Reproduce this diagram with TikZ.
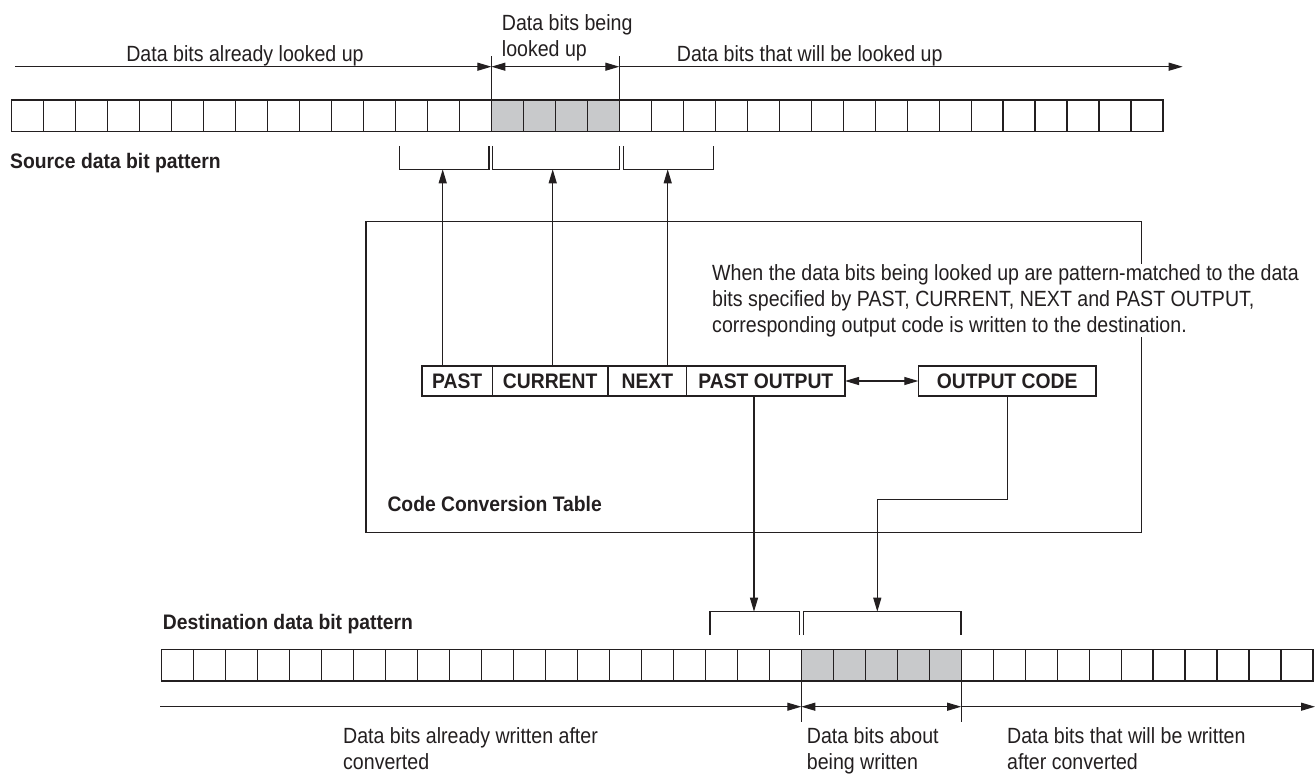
\documentclass[tikz,border=0pt]{standalone}
\usepackage{fontspec}
\setmainfont{Liberation Sans}[FakeStretch=0.89]
\newfontfamily\bfont{Liberation Sans Bold}[FakeStretch=0.92]
\usetikzlibrary{arrows.meta}
\definecolor{ink}{RGB}{35,31,32}
\definecolor{shade}{RGB}{200,201,203}
\begin{document}
\begin{tikzpicture}[x=1pt,y=-1pt,
  cell/.style={draw=ink, line width=1.2pt, minimum width=31.98pt, minimum height=31.7pt, inner sep=0pt, outer sep=0pt},
  lbl/.style={font=\fontsize{22}{26}\selectfont, inner sep=0pt, text=ink},
  blbl/.style={font={\bfont\fontsize{21}{25}\selectfont}, inner sep=0pt, text=ink},
  tcell/.style={draw=ink, line width=1.1pt, minimum height=30pt, inner sep=0pt, outer sep=0pt, text=ink, font={\bfont\fontsize{21}{25}\selectfont}},
  ln/.style={draw=ink, line width=1.1pt},
  arr/.style={ln, -{Triangle[length=14pt,width=8pt]}},
  darr/.style={ln, {Triangle[length=14pt,width=8pt]}-{Triangle[length=14pt,width=8pt]}}]
\useasboundingbox (0,0) rectangle (1316,778);
\fill[white] (0,0) rectangle (1316,778);

% source cells
\foreach \i in {0,...,35}{
  \ifnum\i<15 \def\f{white}\else\ifnum\i<19 \def\f{shade}\else\def\f{white}\fi\fi
  \node[cell, fill=\f] (s\i) at ({27.69+31.98*\i},115.85) {};
}
% destination cells
\foreach \i in {0,...,35}{
  \ifnum\i<20 \def\f{white}\else\ifnum\i<25 \def\f{shade}\else\def\f{white}\fi\fi
  \node[cell, fill=\f] (d\i) at ({177.69+31.98*\i},665.15) {};
}

% top dimension line
\coordinate (tl) at (15,66.7);
\coordinate (t1) at (s15.north west |- tl);
\coordinate (t2) at (s18.north east |- tl);
\coordinate (tr) at (1182.7,66.7);
\draw[ln] (s15.north west) -- ++(0,-44);
\draw[ln] (s18.north east) -- ++(0,-44);
\draw[arr] (tl) -- (t1);
\draw[darr] (t1) -- (t2);
\draw[arr] (t2) -- (tr);

\node[lbl, anchor=base] (l1) at (245,62) {Data bits already looked up};
\node[lbl, anchor=north west, align=left] (l2) at (501.7,14.2) {Data bits being\\looked up};
\node[lbl, anchor=base west] (l3) at (676.7,61.7) {Data bits that will be looked up};
\node[blbl, anchor=base west] (src) at (10,168) {Source data bit pattern};

% source brackets
\draw[ln] (399.3,146) -- (399.3,169.3) -- (489,169.3) -- (489,146);
\draw[ln] (492.3,146) -- (492.3,169.3) -- (619.3,169.3) -- (619.3,146);
\draw[ln] (623.3,146) -- (623.3,169.3) -- (713.3,169.3) -- (713.3,146);
\coordinate (b1) at (442.7,169.3);
\coordinate (b2) at (552.7,169.3);
\coordinate (b3) at (667.7,169.3);

% code conversion table box
\draw[ln] (366,221.7) rectangle (1141.7,532.7);
\node[lbl, anchor=north west, align=left, fill=white] (note) at (712,264.2)
  {When the data bits being looked up are pattern-matched to the data\\bits specified by PAST, CURRENT, NEXT and PAST OUTPUT,\\corresponding output code is written to the destination.};
\node[blbl, anchor=base west] (cct) at (387.3,511.7) {Code Conversion Table};

% table row
\node[tcell, minimum width=70.3pt] (past) at (457.15,381) {PAST};
\node[tcell, minimum width=115.7pt] (cur) at (550.15,381) {CURRENT};
\node[tcell, minimum width=78.7pt] (next) at (647.35,381) {NEXT};
\node[tcell, minimum width=158.3pt] (pout) at (765.85,381) {PAST OUTPUT};
\node[tcell, minimum width=177.7pt] (ocode) at (1007.15,381) {OUTPUT CODE};
\draw[darr] (pout.east) -- (ocode.west);

\draw[arr] (b1 |- past.north) -- (b1);
\draw[arr] (b2 |- cur.north) -- (b2);
\draw[arr] (b3 |- next.north) -- (b3);

% destination brackets
\draw[ln] (710,635) -- (710,611.7) -- (799.3,611.7) -- (799.3,635);
\draw[ln] (803.3,635) -- (803.3,611.7) -- (961,611.7) -- (961,635);
\coordinate (c1) at (754,611.7);
\coordinate (c2) at (877.3,611.7);
\coordinate (turn) at (877.3,499.3);
\draw[arr] (c1 |- pout.south) -- (c1);
\draw[arr] (ocode.south) |- (turn) -- (c2);

\node[blbl, anchor=base west] (dst) at (162.7,629.3) {Destination data bit pattern};

% bottom dimension line
\coordinate (bl) at (160,706.7);
\coordinate (u1) at (d20.south west |- bl);
\coordinate (u2) at (d24.south east |- bl);
\coordinate (br) at (1315,706.7);
\draw[ln] (d20.south west) -- ++(0,41);
\draw[ln] (d24.south east) -- ++(0,41);
\draw[arr] (bl) -- (u1);
\draw[darr] (u1) -- (u2);
\draw[arr] (u2) -- (br);

\node[lbl, anchor=north west, align=left] (w1) at (343,727.2) {Data bits already written after\\converted};
\node[lbl, anchor=north west, align=left] (w2) at (806.7,727.2) {Data bits about\\being written};
\node[lbl, anchor=north west, align=left] (w3) at (1007,727.2) {Data bits that will be written\\after converted};
\end{tikzpicture}
\end{document}
